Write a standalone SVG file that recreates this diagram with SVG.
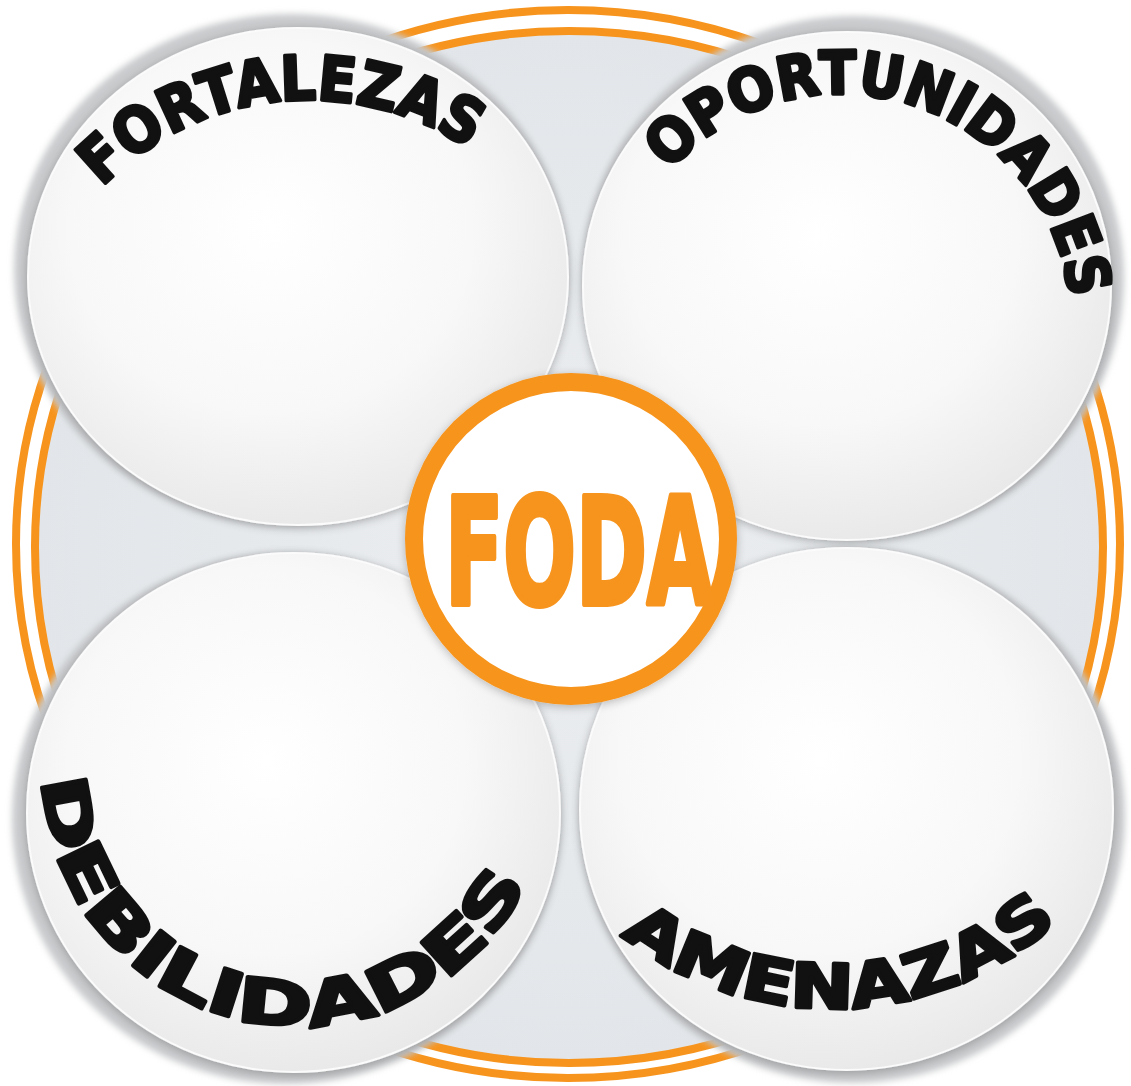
<svg xmlns="http://www.w3.org/2000/svg" width="1131" height="1086" viewBox="0 0 1131 1086">
<style>
.ring{fill:none;stroke:#F7941D;stroke-width:8}
.rim{fill:#c9cbcd;filter:url(#soft)}
.disk{fill:url(#diskGrad);stroke:#fbfbfb;stroke-width:2}
.lbl{font-family:"DejaVu Sans","Liberation Sans",sans-serif;font-weight:bold;font-size:62px;fill:#111111;stroke:#111111;stroke-width:3.5;stroke-linejoin:round}
.foda{font-family:"DejaVu Sans","Liberation Sans",sans-serif;font-weight:bold;font-size:148px;fill:#F7941D;stroke:#F7941D;stroke-width:6;stroke-linejoin:round}
</style>
<defs>
<radialGradient id="diskGrad" cx="45%" cy="40%" r="62%">
<stop offset="0" stop-color="#ffffff"/>
<stop offset="0.6" stop-color="#f8f8f8"/>
<stop offset="1" stop-color="#e8e8e9"/>
</radialGradient>
<radialGradient id="bgGrad" cx="50%" cy="50%" r="55%">
<stop offset="0" stop-color="#eceef0"/>
<stop offset="1" stop-color="#e1e5e9"/>
</radialGradient>
<filter id="soft" x="-10%" y="-10%" width="120%" height="120%">
<feGaussianBlur stdDeviation="3"/>
</filter>
<filter id="shadow" x="-20%" y="-20%" width="140%" height="140%">
<feGaussianBlur in="SourceAlpha" stdDeviation="5"/>
<feOffset dx="0" dy="2"/>
<feComponentTransfer><feFuncA type="linear" slope="0.25"/></feComponentTransfer>
<feMerge><feMergeNode/><feMergeNode in="SourceGraphic"/></feMerge>
</filter>
<path id="pFort" d="M27.6,323.8 A288,288 0 0 1 569.7,266.9"/>
<path id="pOpor" d="M628.7,235.6 A230,230 0 0 1 1065.5,374.2"/>
<path id="pDeb" d="M43.7,748.5 A255,255 0 0 0 538.3,855.5"/>
<path id="pAme" d="M503,749.1 A338,338 0 0 0 1164.5,729.5"/>
</defs>
<rect width="1131" height="1086" fill="#ffffff"/>
<g id="background">
<ellipse cx="569" cy="547" rx="534" ry="516" fill="url(#bgGrad)"/>
<ellipse class="ring" cx="568" cy="544" rx="552" ry="534"/>
<ellipse class="ring" cx="569" cy="547" rx="534" ry="516"/>
</g>
<g id="connectors"></g>
<g id="node-fortalezas">
<ellipse class="rim" cx="291" cy="270" rx="277" ry="256"/>
<ellipse class="disk" filter="url(#shadow)" cx="298" cy="276.5" rx="270" ry="248.5"/>
<text class="lbl"><textPath href="#pFort" startOffset="50%" text-anchor="middle" textLength="400" lengthAdjust="spacingAndGlyphs">FORTALEZAS</textPath></text>
</g>
<g id="node-oportunidades">
<ellipse class="rim" cx="853.5" cy="278" rx="270.5" ry="262"/>
<ellipse class="disk" filter="url(#shadow)" cx="847" cy="286" rx="264" ry="254"/>
<text class="lbl" style="font-size:60px"><textPath href="#pOpor" startOffset="50%" text-anchor="middle" textLength="530" lengthAdjust="spacingAndGlyphs">OPORTUNIDADES</textPath></text>
</g>
<g id="node-debilidades">
<ellipse class="rim" cx="286" cy="818.5" rx="274" ry="265.5"/>
<ellipse class="disk" filter="url(#shadow)" cx="293.5" cy="812.5" rx="266.5" ry="259.5"/>
<text class="lbl"><textPath href="#pDeb" startOffset="50%" text-anchor="middle" textLength="675" lengthAdjust="spacingAndGlyphs">DEBILIDADES</textPath></text>
</g>
<g id="node-amenazas">
<ellipse class="rim" cx="852.5" cy="815.5" rx="272.5" ry="267.5"/>
<ellipse class="disk" filter="url(#shadow)" cx="846.5" cy="809" rx="266.5" ry="261"/>
<text class="lbl"><textPath href="#pAme" startOffset="50%" text-anchor="middle" textLength="475" lengthAdjust="spacingAndGlyphs">AMENAZAS</textPath></text>
</g>
<g id="node-foda">
<circle cx="571" cy="539" r="157" fill="#ffffff" stroke="#F7941D" stroke-width="18" filter="url(#shadow)"/>
<text class="foda" x="445" y="604" textLength="268" lengthAdjust="spacingAndGlyphs">FODA</text>
</g>
</svg>
